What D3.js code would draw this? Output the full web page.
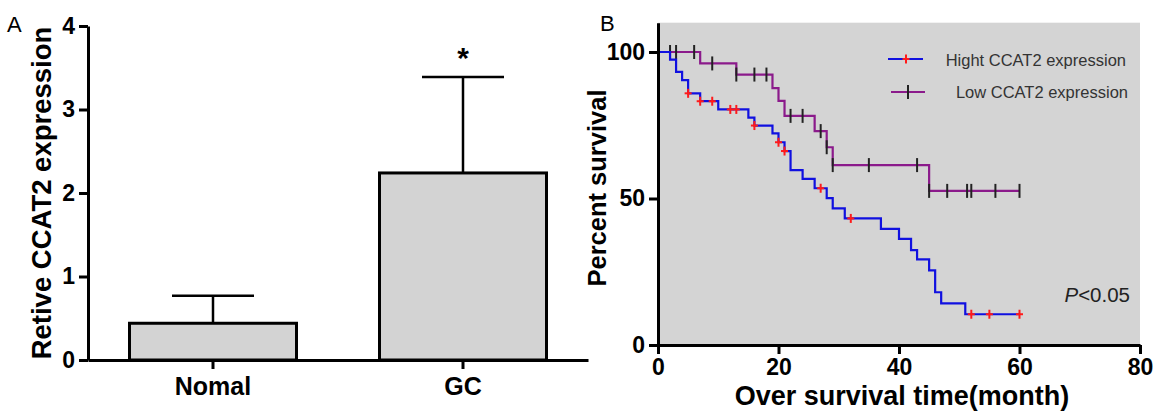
<!DOCTYPE html>
<html>
<head>
<meta charset="utf-8">
<script src="https://cdn.jsdelivr.net/npm/d3@7"></script>
<style>
  body { margin: 0; background: #fff; }
  svg { display: block; font-family: "Liberation Sans", Arial, sans-serif; }
</style>
</head>
<body>
<script>
// Panel A: relative expression
const groups = ['Nomal', 'GC'];
const means = [0.44, 2.24];
const errTop = [0.77, 3.39];
const yTicksA = [0, 1, 2, 3, 4];

// Panel B: Kaplan-Meier, step times and survival after the step
const highTimes = [0, 2, 3, 4, 5, 7, 10, 15, 16, 19, 20, 21, 22, 24, 26, 28, 29, 31, 37, 40, 42, 43, 45, 46, 47, 51];
const highSurv = [100, 97.4, 93.2, 90.4, 85.9, 83.2, 80.4, 77.6, 74.9, 72.2, 69.2, 66.2, 59.7, 56.7, 53.5, 50.1, 46.6, 43.2, 39.6, 36.2, 32.4, 29.2, 25.5, 18.0, 14.2, 10.5];
const highCensor = [5, 7, 9, 12, 13, 16, 20, 21, 27, 32, 52, 55, 60];

const lowTimes = [0, 7, 13, 19, 20, 21, 26, 28, 29, 45];
const lowSurv = [100, 96.1, 92.3, 87.7, 83.3, 78.2, 73.0, 67.5, 61.4, 52.6];
const lowCensor = [2, 3, 6, 9, 13, 16, 18, 22, 24, 27, 28, 29, 35, 43, 45, 48, 51.3, 52, 56, 60];

const xTicksB = [0, 20, 40, 60, 80];
const yTicksB = [0, 50, 100];
const endTime = 60;

const svg = d3.select('body').append('svg')
  .attr('width', 1154)
  .attr('height', 411);

function styleAxis(ax, size) {
  ax.select('.domain').attr('stroke', '#000').attr('stroke-width', 3);
  ax.selectAll('.tick line').attr('stroke', '#000').attr('stroke-width', 3);
  ax.selectAll('.tick text')
    .attr('fill', '#000')
    .style('font-family', '"Liberation Sans", Arial, sans-serif')
    .style('font-weight', 'bold')
    .style('font-size', size + 'px');
}

// ---------- Panel A ----------
const yA = d3.scaleLinear().domain([0, 4]).range([360, 26]);
const xA = d3.scaleBand().domain(groups).range([88, 588])
  .paddingInner(0.332).paddingOuter(0.166);

const gA = svg.append('g');

gA.selectAll('.bar')
  .data(groups)
  .enter().append('rect')
  .attr('class', 'bar')
  .attr('x', d => xA(d))
  .attr('y', (d, i) => yA(means[i]))
  .attr('width', xA.bandwidth())
  .attr('height', (d, i) => yA(0) - yA(means[i]))
  .attr('fill', '#d3d3d3')
  .attr('stroke', '#000')
  .attr('stroke-width', 3);

// error bars (upper only)
const capW = 82;
groups.forEach((g, i) => {
  const cx = xA(g) + xA.bandwidth() / 2;
  gA.append('line')
    .attr('x1', cx).attr('x2', cx)
    .attr('y1', yA(means[i])).attr('y2', yA(errTop[i]))
    .attr('stroke', '#000').attr('stroke-width', 2.5);
  gA.append('line')
    .attr('x1', cx - capW / 2).attr('x2', cx + capW / 2)
    .attr('y1', yA(errTop[i])).attr('y2', yA(errTop[i]))
    .attr('stroke', '#000').attr('stroke-width', 2.5);
});

const axisA_y = gA.append('g')
  .attr('transform', 'translate(88,0)')
  .call(d3.axisLeft(yA).tickValues(yTicksA).tickSize(9).tickSizeOuter(0).tickPadding(4).tickFormat(d3.format('d')));
const axisA_x = gA.append('g')
  .attr('transform', 'translate(0,360)')
  .call(d3.axisBottom(xA).tickSize(9).tickSizeOuter(0).tickPadding(8));
styleAxis(axisA_y, 23);
styleAxis(axisA_x, 25);

gA.append('text')
  .attr('transform', 'translate(41,193) rotate(-90)')
  .attr('text-anchor', 'middle')
  .attr('dy', '0.35em')
  .style('font-size', '27.5px')
  .style('font-weight', 'bold')
  .text('Retive CCAT2 expression');

gA.append('text')
  .attr('x', xA('GC') + xA.bandwidth() / 2)
  .attr('y', 68)
  .attr('text-anchor', 'middle')
  .style('font-size', '30px')
  .style('font-weight', 'bold')
  .text('*');

svg.append('text')
  .attr('x', 7).attr('y', 32)
  .style('font-size', '22px')
  .text('A');

// ---------- Panel B ----------
const xB = d3.scaleLinear().domain([0, 80]).range([658, 1140]);
const yB = d3.scaleLinear().domain([0, 110]).range([345, 22.7]);

const gB = svg.append('g');

gB.append('rect')
  .attr('x', xB(0)).attr('y', yB(110))
  .attr('width', xB(80) - xB(0)).attr('height', yB(0) - yB(110))
  .attr('fill', '#d4d4d4');

function stepPoints(times, surv) {
  const pts = times.map((t, i) => [t, surv[i]]);
  pts.push([endTime, surv[surv.length - 1]]);
  return pts;
}
function survAt(times, surv, t) {
  let s = surv[0];
  times.forEach((tt, i) => { if (tt <= t) s = surv[i]; });
  return s;
}

const line = d3.line()
  .x(d => xB(d[0]))
  .y(d => yB(d[1]))
  .curve(d3.curveStepAfter);

// Low group
gB.append('path')
  .datum(stepPoints(lowTimes, lowSurv))
  .attr('d', line)
  .attr('fill', 'none')
  .attr('stroke', '#8b1a8b')
  .attr('stroke-width', 2.2);

gB.selectAll('.low-censor')
  .data(lowCensor)
  .enter().append('line')
  .attr('class', 'low-censor')
  .attr('x1', d => xB(d)).attr('x2', d => xB(d))
  .attr('y1', d => yB(survAt(lowTimes, lowSurv, d)) - 7)
  .attr('y2', d => yB(survAt(lowTimes, lowSurv, d)) + 7)
  .attr('stroke', '#222')
  .attr('stroke-width', 2);

// High group
gB.append('path')
  .datum(stepPoints(highTimes, highSurv))
  .attr('d', line)
  .attr('fill', 'none')
  .attr('stroke', '#1010e0')
  .attr('stroke-width', 2.2);

const crosses = gB.selectAll('.high-censor')
  .data(highCensor)
  .enter().append('g')
  .attr('class', 'high-censor')
  .attr('transform', d => `translate(${xB(d)},${yB(survAt(highTimes, highSurv, d))})`);
crosses.append('line')
  .attr('x1', -3.5).attr('x2', 3.5).attr('y1', 0).attr('y2', 0)
  .attr('stroke', '#ff1a1a').attr('stroke-width', 2);
crosses.append('line')
  .attr('x1', 0).attr('x2', 0).attr('y1', -4.5).attr('y2', 4.5)
  .attr('stroke', '#ff1a1a').attr('stroke-width', 2);

// axes
const axisB_y = gB.append('g')
  .attr('transform', `translate(${xB(0)},0)`)
  .call(d3.axisLeft(yB).tickValues(yTicksB).tickSize(9).tickSizeOuter(0).tickPadding(4));
const axisB_x = gB.append('g')
  .attr('transform', `translate(0,${yB(0)})`)
  .call(d3.axisBottom(xB).tickValues(xTicksB).tickSize(9).tickSizeOuter(0).tickPadding(5));
styleAxis(axisB_y, 23);
styleAxis(axisB_x, 23);

gB.append('text')
  .attr('transform', 'translate(597,188) rotate(-90)')
  .attr('text-anchor', 'middle')
  .attr('dy', '0.35em')
  .style('font-size', '25.5px')
  .style('font-weight', 'bold')
  .text('Percent survival');

gB.append('text')
  .attr('x', (xB(0) + xB(80)) / 2 + 3)
  .attr('y', 405)
  .attr('text-anchor', 'middle')
  .style('font-size', '27px')
  .style('font-weight', 'bold')
  .text('Over survival time(month)');

svg.append('text')
  .attr('x', 600).attr('y', 31)
  .style('font-size', '22px')
  .text('B');

// legend
const legend = gB.append('g');
legend.append('line')
  .attr('x1', 888).attr('x2', 923).attr('y1', 59).attr('y2', 59)
  .attr('stroke', '#1010e0').attr('stroke-width', 2.2);
legend.append('line')
  .attr('x1', 902.5).attr('x2', 909.5).attr('y1', 59).attr('y2', 59)
  .attr('stroke', '#ff1a1a').attr('stroke-width', 2);
legend.append('line')
  .attr('x1', 906).attr('x2', 906).attr('y1', 54.5).attr('y2', 63.5)
  .attr('stroke', '#ff1a1a').attr('stroke-width', 2);
legend.append('text')
  .attr('x', 1126).attr('y', 60).attr('dy', '0.35em')
  .attr('text-anchor', 'end')
  .attr('fill', '#333')
  .style('font-size', '16.5px')
  .text('Hight CCAT2 expression');

legend.append('line')
  .attr('x1', 891).attr('x2', 925).attr('y1', 92).attr('y2', 92)
  .attr('stroke', '#8b1a8b').attr('stroke-width', 2.2);
legend.append('line')
  .attr('x1', 908).attr('x2', 908).attr('y1', 85).attr('y2', 99)
  .attr('stroke', '#222').attr('stroke-width', 2);
legend.append('text')
  .attr('x', 1128).attr('y', 92).attr('dy', '0.35em')
  .attr('text-anchor', 'end')
  .attr('fill', '#333')
  .style('font-size', '16.5px')
  .text('Low CCAT2 expression');

const pText = gB.append('text')
  .attr('x', 1130).attr('y', 302)
  .attr('text-anchor', 'end')
  .attr('fill', '#222')
  .style('font-size', '20.5px');
pText.append('tspan').style('font-style', 'italic').text('P');
pText.append('tspan').text('<0.05');
</script>
</body>
</html>
